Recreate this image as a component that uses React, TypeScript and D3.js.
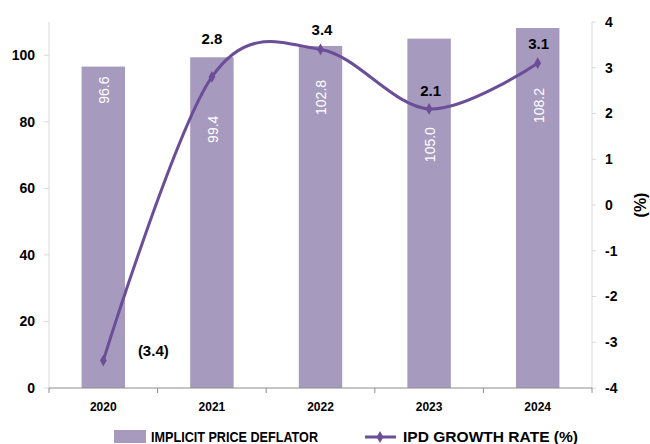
import React from "react";
import * as d3 from "d3";

const categories = ["2020", "2021", "2022", "2023", "2024"];
const deflator = [96.6, 99.4, 102.8, 105.0, 108.2];
const growth = [-3.4, 2.8, 3.4, 2.1, 3.1];
const growthLabels = ["(3.4)", "2.8", "3.4", "2.1", "3.1"];
const leftTicks = [0, 20, 40, 60, 80, 100];
const rightTicks = [-4, -3, -2, -1, 0, 1, 2, 3, 4];

const W = 650, H = 444;
const left = 49, right = 592, top = 22, bottom = 388;
const barColor = "#A79ABF";
const lineColor = "#6B4E97";
const font = "'Liberation Sans', Arial, sans-serif";

// label placement (offset of label centre below bar top, px)
const barLabelDrop = [23.5, 72, 51.5, 106, 77.5];
const lineLabelOffsets: [number, number][] = [[50, -10], [0, -38.5], [1.5, -20], [1.5, -18.5], [1, -19.5]];

export default function App() {
  const x = d3.scaleBand<string>().domain(categories).range([left, right]).paddingInner(0.6).paddingOuter(0.3);
  const band = d3.scaleBand<string>().domain(categories).range([left, right]);
  const yL = d3.scaleLinear().domain([0, 110]).range([bottom, top]);
  const yR = d3.scaleLinear().domain([-4, 4]).range([bottom, top]);
  const cx = (c: string) => (band(c) as number) + band.bandwidth() / 2;
  const pts: [number, number][] = categories.map((c, i) => [cx(c), yR(growth[i])]);
  const line = d3.line().curve(d3.curveCatmullRom.alpha(0))(pts) as string;
  const diamond = d3.symbol(d3.symbolDiamond, 40)() as string;

  return (
    <svg width={W} height={H} style={{ position: "absolute", left: 0, top: 0 }} fontFamily={font}>
      <rect width={W} height={H} fill="#fff" />
      {categories.map((c, i) => (
        <rect key={c} x={x(c)} y={yL(deflator[i])} width={x.bandwidth()} height={bottom - yL(deflator[i])} fill={barColor} />
      ))}
      {categories.map((c, i) => {
        const tx = cx(c) + 1;
        const ty = yL(deflator[i]) + barLabelDrop[i];
        return (
          <text key={c} transform={`translate(${tx},${ty}) rotate(-90)`} textAnchor="middle" dy="0.35em" fill="#fff" fontSize={14}>
            {deflator[i].toFixed(1)}
          </text>
        );
      })}
      {/* axes */}
      <line x1={left} x2={left} y1={top} y2={bottom} stroke="#D9D9D9" strokeWidth={1} />
      <line x1={right} x2={right} y1={top} y2={bottom} stroke="#D9D9D9" strokeWidth={1} />
      <line x1={left} x2={right} y1={bottom} y2={bottom} stroke="#8C8C8C" strokeWidth={1} />
      {leftTicks.map((t) => (
        <g key={t}>
          <line x1={left - 5} x2={left} y1={yL(t)} y2={yL(t)} stroke="#D9D9D9" />
          <text x={35} y={yL(t)} dy="0.35em" textAnchor="end" fontWeight="bold" fontSize={14}>{t}</text>
        </g>
      ))}
      {rightTicks.map((t) => (
        <g key={t}>
          <line x1={right} x2={right + 4} y1={yR(t)} y2={yR(t)} stroke="#D9D9D9" />
          <text x={605} y={yR(t)} dy="0.35em" textAnchor="start" fontWeight="bold" fontSize={14}>{t}</text>
        </g>
      ))}
      {categories.map((c) => (
        <line key={c} x1={band(c) as number} x2={band(c) as number} y1={bottom} y2={bottom + 5} stroke="#8C8C8C" />
      ))}
      <line x1={right} x2={right} y1={bottom} y2={bottom + 5} stroke="#8C8C8C" />
      {categories.map((c) => (
        <text key={c} x={cx(c)} y={407} dy="0.35em" textAnchor="middle" fontWeight="bold" fontSize={12}>{c}</text>
      ))}
      <text transform={`translate(640,${yR(0)}) rotate(-90)`} textAnchor="middle" dy="0.35em" fontWeight="bold" fontSize={16}>(%)</text>
      {/* line */}
      <path d={line} fill="none" stroke={lineColor} strokeWidth={3} />
      {pts.map((p, i) => (
        <path key={i} d={diamond} transform={`translate(${p[0]},${p[1]})`} fill={lineColor} />
      ))}
      {pts.map((p, i) => (
        <text key={i} x={p[0] + lineLabelOffsets[i][0]} y={p[1] + lineLabelOffsets[i][1]} dy="0.35em" textAnchor="middle" fontWeight="bold" fontSize={15}>
          {growthLabels[i]}
        </text>
      ))}
      {/* legend */}
      <rect x={114} y={430} width={32} height={13} fill={barColor} />
      <text x={151} y={437} dy="0.35em" fontWeight="bold" fontSize={14} textLength={167} lengthAdjust="spacingAndGlyphs">IMPLICIT PRICE DEFLATOR</text>
      <line x1={365} x2={396} y1={437} y2={437} stroke={lineColor} strokeWidth={3} />
      <path d={diamond} transform="translate(380,437)" fill={lineColor} />
      <text x={403} y={437} dy="0.35em" fontWeight="bold" fontSize={14} textLength={175} lengthAdjust="spacingAndGlyphs">IPD GROWTH RATE (%)</text>
    </svg>
  );
}
